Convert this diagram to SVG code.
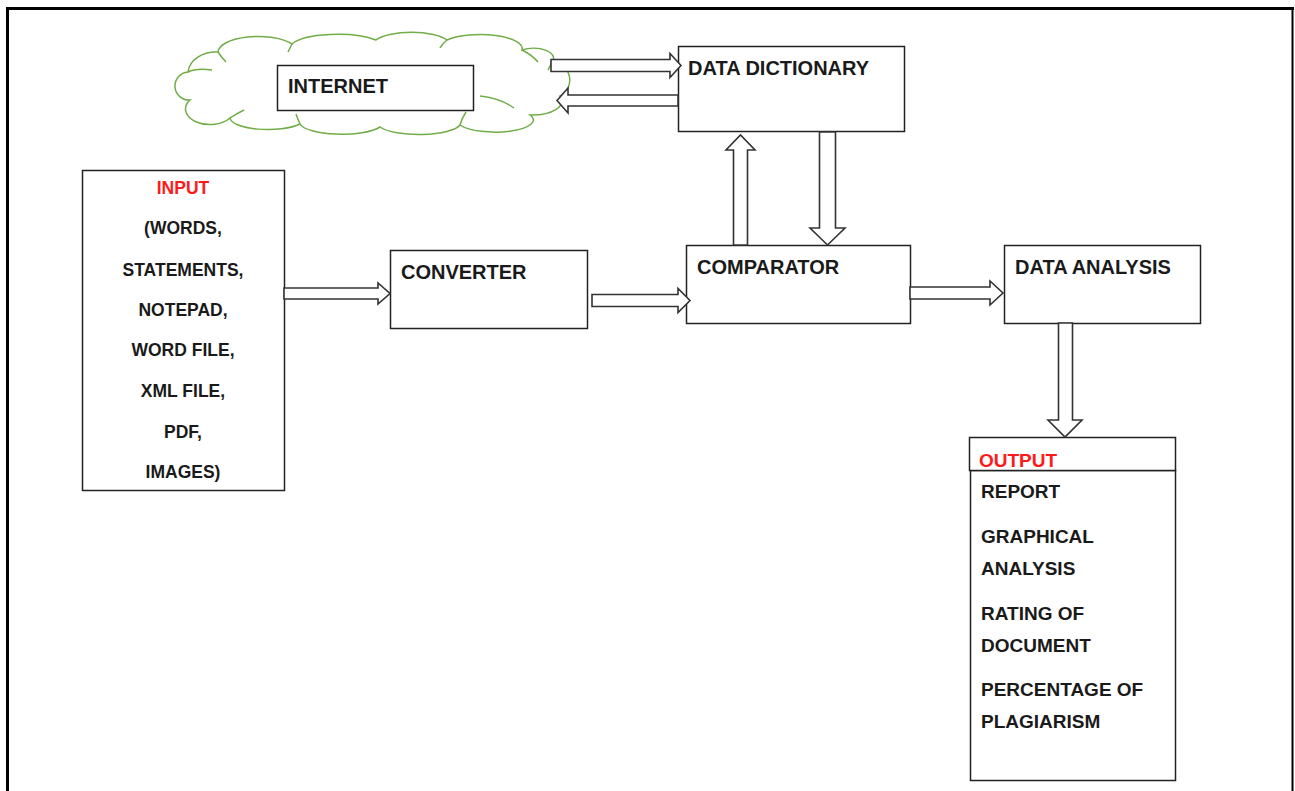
<svg xmlns="http://www.w3.org/2000/svg" width="1295" height="791" viewBox="0 0 1295 791">
<style>
.box{fill:#fff;stroke:#222;stroke-width:1.5}
.arr{fill:#fff;stroke:#333;stroke-width:1.6;stroke-linejoin:miter}
.t{font-family:"Liberation Sans",Arial,sans-serif;font-weight:bold;font-size:20px;fill:#1a1a1a}
.s{font-family:"Liberation Sans",Arial,sans-serif;font-weight:bold;font-size:17.5px;fill:#1a1a1a;text-anchor:middle}
.o{font-family:"Liberation Sans",Arial,sans-serif;font-weight:bold;font-size:19px;fill:#1a1a1a}
.red{fill:#ff1a1a}
.cloud{fill:#fff;stroke:#70AD47;stroke-width:1.5}
</style>
<rect width="1295" height="791" fill="#fff"/>
<g id="frame" fill="none" stroke="#000">
<line x1="7.5" y1="7" x2="7.5" y2="791" stroke-width="3"/>
<line x1="6" y1="8.5" x2="1294" y2="8.5" stroke-width="3"/>
<line x1="1292.5" y1="8" x2="1292.5" y2="791" stroke-width="2"/>
</g>
<g id="internet">
<path class="cloud" d="M188,72 A28,22 0 0 1 218,52 A40,16 0 0 1 292,44 A48,14 0 0 1 376,40 A38,12 0 0 1 447,40 A42,14 0 0 1 522,50 A20,10 0 0 1 552,62 A18,18 0 0 1 560,96 A30,14 0 0 1 530,115 A38,12 0 0 1 460,125 A42,12 0 0 1 380,127 A42,12 0 0 1 300,124 A38,12 0 0 1 230,118 A22,14 0 0 1 190,100 A14,14 0 0 1 188,72 Z"/>
<path d="M188,72 Q196,68 212,70 M218,52 Q222,58 226,62 M292,44 Q290,48 288,52 M447,40 Q442,44 440,48 M522,50 Q532,55 538,62 M552,62 Q550,66 548,70 M480,96 Q500,98 514,108 M460,125 Q462,118 466,112 M300,124 Q298,120 296,114 M230,118 Q236,114 244,110" fill="none" stroke="#70AD47" stroke-width="1.5"/>
<rect class="box" x="277.5" y="65.5" width="196" height="45"/>
<text class="t" x="288" y="93">INTERNET</text>
</g>
<g id="data-dictionary">
<rect class="box" x="678.5" y="46.5" width="226" height="85"/>
<text class="t" x="688" y="75">DATA DICTIONARY</text>
</g>
<g id="input">
<rect class="box" x="82.5" y="170.5" width="202" height="320"/>
<text class="s red" x="183" y="194">INPUT</text>
<text class="s" x="183" y="234">(WORDS,</text>
<text class="s" x="183" y="276">STATEMENTS,</text>
<text class="s" x="183" y="316">NOTEPAD,</text>
<text class="s" x="183" y="356">WORD FILE,</text>
<text class="s" x="183" y="397">XML FILE,</text>
<text class="s" x="183" y="438">PDF,</text>
<text class="s" x="183" y="478">IMAGES)</text>
</g>
<g id="converter">
<rect class="box" x="390.5" y="250.5" width="197" height="78"/>
<text class="t" x="401" y="279">CONVERTER</text>
</g>
<g id="comparator">
<rect class="box" x="686.5" y="245.5" width="224" height="78"/>
<text class="t" x="697" y="274">COMPARATOR</text>
</g>
<g id="data-analysis">
<rect class="box" x="1004.5" y="245.5" width="196" height="78"/>
<text class="t" x="1015" y="274">DATA ANALYSIS</text>
</g>
<g id="output">
<rect class="box" x="970.5" y="470.5" width="205" height="310"/>
<rect class="box" x="969.5" y="437.5" width="206" height="33"/>
<text class="o red" x="979" y="467">OUTPUT</text>
<text class="o" x="981" y="498">REPORT</text>
<text class="o" x="981" y="543">GRAPHICAL</text>
<text class="o" x="981" y="575">ANALYSIS</text>
<text class="o" x="981" y="620">RATING OF</text>
<text class="o" x="981" y="652">DOCUMENT</text>
<text class="o" x="981" y="696">PERCENTAGE OF</text>
<text class="o" x="981" y="728">PLAGIARISM</text>
</g>
<g id="connectors">
<polygon class="arr" points="551,59.5 670,59.5 670,53.5 681,65.5 670,77.5 670,71.5 551,71.5"/>
<polygon class="arr" points="678,95 568,95 568,88 557,100.5 568,113 568,106 678,106"/>
<polygon class="arr" points="733.5,245 733.5,150 726,150 740.5,135 755,150 747.5,150 747.5,245"/>
<polygon class="arr" points="819.5,132 819.5,228 810,228 827.5,245 845,228 835.5,228 835.5,132"/>
<polygon class="arr" points="284,288 378,288 378,283 390,293.5 378,304 378,299 284,299"/>
<polygon class="arr" points="592,294.5 678,294.5 678,288.5 690,300.5 678,312.5 678,306.5 592,306.5"/>
<polygon class="arr" points="910,287 990,287 990,281 1003,293 990,305 990,299 910,299"/>
<polygon class="arr" points="1058.5,323 1058.5,420 1048,420 1065,437 1082,420 1072.5,420 1072.5,323"/>
</g>
</svg>
